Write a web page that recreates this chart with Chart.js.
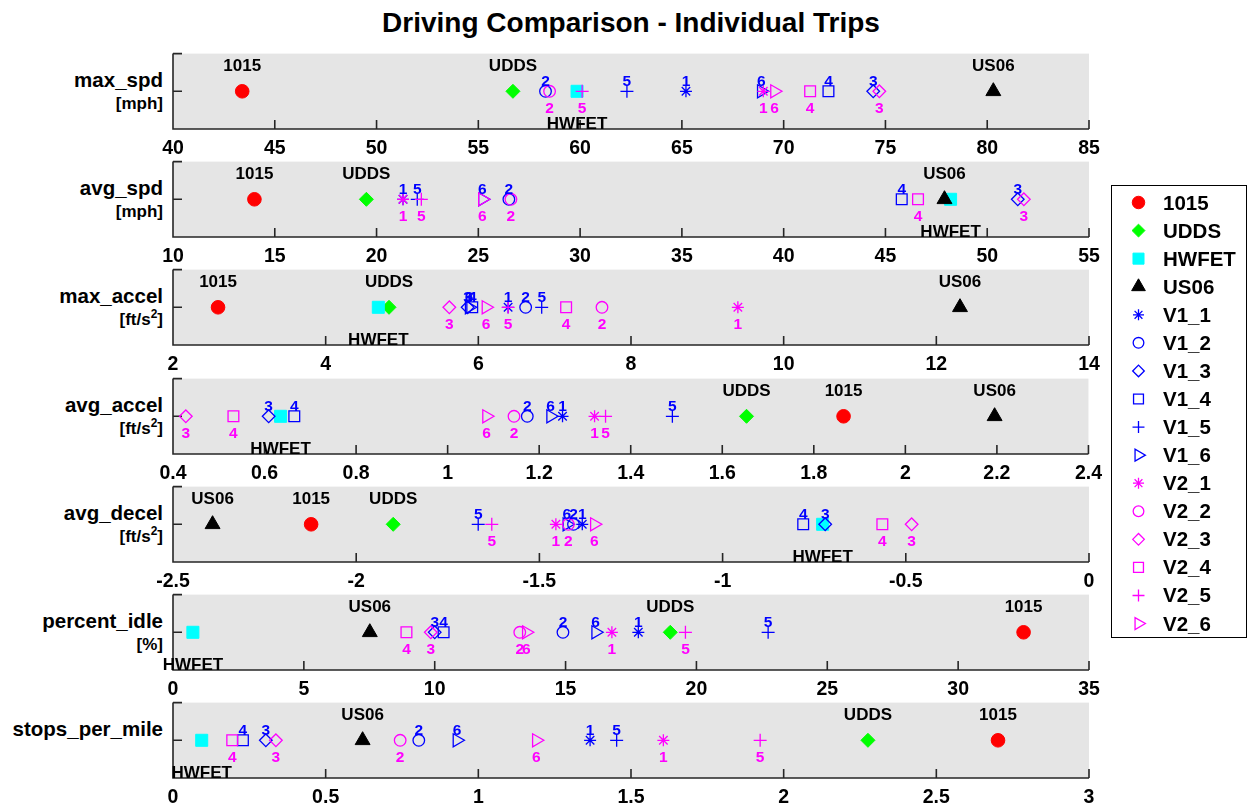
<!DOCTYPE html>
<html>
<head>
<meta charset="utf-8">
<title>Driving Comparison - Individual Trips</title>
<script src="https://cdn.jsdelivr.net/npm/chart.js@4.4.1/dist/chart.umd.min.js"></script>
<style>
  body { margin: 0; background: #fff; font-family: "Liberation Sans", Arial, sans-serif; }
  #wrap { position: relative; width: 1248px; height: 806px; overflow: hidden; }
  #title { position: absolute; left: 173px; width: 916px; top: 7px; text-align: center;
           font-weight: bold; font-size: 28px; line-height: 32px; }
  .ylab { position: absolute; left: 0; width: 163px; text-align: right; font-weight: bold; white-space: nowrap; }
  .yname { font-size: 20.5px; line-height: 24px; }
  .yunit { font-size: 17px; line-height: 20px; }
  .yunit sup { font-size: 0.7em; line-height: 0; }
  canvas.panel { position: absolute; left: 140px; }
  #legend { position: absolute; left: 1111px; top: 185px; width: 134px; height: 451px;
            border: 1px solid #000; background: #fff; }
  #legend canvas { position: absolute; left: 0; top: 0; }
  .lgtext { position: absolute; left: 51px; font-weight: bold; font-size: 20.5px; line-height: 24px; }
</style>
</head>
<body>
<div id="wrap">
  <div id="title">Driving Comparison - Individual Trips</div>
  <div id="legend"></div>
</div>
<script>
// series: drive cycles first, then vehicle 1 and vehicle 2 trips
const series = ['1015', 'UDDS', 'HWFET', 'US06',
  'V1_1', 'V1_2', 'V1_3', 'V1_4', 'V1_5', 'V1_6',
  'V2_1', 'V2_2', 'V2_3', 'V2_4', 'V2_5', 'V2_6'];

const panelNames = ['max_spd', 'avg_spd', 'max_accel', 'avg_accel', 'avg_decel', 'percent_idle', 'stops_per_mile'];
const panelUnits = ['mph', 'mph', 'ft/s2', 'ft/s2', 'ft/s2', '%', ''];

// values per panel, same order as series
const maxSpd       = [43.4, 56.7, 59.85, 80.3, 65.2, 58.3, 74.4, 72.2, 62.3, 68.9, 69.0, 58.5, 74.7, 71.3, 60.1, 69.55];
const avgSpd       = [14.0, 19.5, 48.2, 47.9, 21.3, 26.5, 51.5, 45.8, 22.0, 25.2, 21.3, 26.6, 51.8, 46.6, 22.2, 25.2];
const maxAccel     = [2.59, 4.83, 4.69, 12.31, 6.39, 6.62, 5.86, 5.92, 6.83, 5.88, 9.40, 7.62, 5.62, 7.15, 6.39, 6.10];
const avgAccel     = [1.865, 1.653, 0.635, 2.195, 1.251, 1.174, 0.609, 0.665, 1.491, 1.225, 1.321, 1.145, 0.428, 0.532, 1.345, 1.085];
const avgDecel     = [-2.123, -1.899, -0.727, -2.392, -1.383, -1.407, -0.720, -0.780, -1.667, -1.425, -1.455, -1.421, -0.484, -0.564, -1.630, -1.350];
const pctIdle      = [32.5, 19.0, 0.76, 7.52, 17.78, 14.9, 10.0, 10.34, 22.74, 16.15, 16.77, 13.25, 9.85, 8.92, 19.58, 13.5];
const stopsPerMile = [2.702, 2.276, 0.094, 0.621, 1.366, 0.805, 0.304, 0.229, 1.453, 0.93, 1.606, 0.744, 0.337, 0.194, 1.923, 1.19];

// x axis range and tick step per panel
const axisMin  = [40, 10, 2, 0.4, -2.5, 0, 0];
const axisMax  = [85, 55, 14, 2.4, 0, 35, 3];
const axisStep = [5, 5, 2, 0.2, 0.5, 5, 0.5];

const panelValues = [maxSpd, avgSpd, maxAccel, avgAccel, avgDecel, pctIdle, stopsPerMile];

// marker looks
const BLUE = '#0000ff', MAG = '#ff00ff';
const seriesColor = ['#ff0000', '#00ff00', '#00ffff', '#000000',
  BLUE, BLUE, BLUE, BLUE, BLUE, BLUE, MAG, MAG, MAG, MAG, MAG, MAG];
const tripStyle = ['star', 'circle', 'rectRot', 'rect', 'cross', 'triangle'];
const tripRadius = [6, 5.8, 6.3, 7.6, 6.5, 7.5];
const markerStyle = ['circle', 'rectRot', 'rect', 'triangle'].concat(tripStyle, tripStyle);
const markerRadius = [6.8, 7, 8.5, 8.6].concat(tripRadius, tripRadius);
const markerRotation = series.map((s, i) => (i >= 4 && (i - 4) % 6 === 5) ? 90 : 0);
const filled = series.map((s, i) => i < 4);

const panelTop = [52, 160, 268, 377, 485, 593, 701];
const PANEL_H = 77;
const FONT = '"Liberation Sans", Arial, sans-serif';

const wrap = document.getElementById('wrap');

function fmtTick(v) {
  return String(parseFloat(Number(v).toFixed(3)));
}

// grey box, axis lines with inward ticks, and the text tags next to the markers
const panelDecor = {
  id: 'panelDecor',
  beforeDraw(chart) {
    const a = chart.chartArea;
    const ctx = chart.ctx;
    ctx.save();
    ctx.fillStyle = '#e5e5e5';
    ctx.fillRect(a.left, a.top, a.right - a.left, a.bottom - a.top);
    ctx.restore();
  },
  beforeDatasetsDraw(chart) {
    const a = chart.chartArea;
    const ctx = chart.ctx;
    const x = chart.scales.x, y = chart.scales.y;
    ctx.save();
    ctx.strokeStyle = '#262626';
    ctx.lineWidth = 1.6;
    ctx.beginPath();
    ctx.moveTo(a.left, a.top);
    ctx.lineTo(a.left, a.bottom);
    ctx.lineTo(a.right, a.bottom);
    x.ticks.forEach(t => {
      const px = x.getPixelForValue(t.value);
      ctx.moveTo(px, a.bottom);
      ctx.lineTo(px, a.bottom - 9);
    });
    [-1, 0, 1].forEach(v => {
      const py = y.getPixelForValue(v);
      ctx.moveTo(a.left, py);
      ctx.lineTo(a.left + 9, py);
    });
    ctx.stroke();
    ctx.restore();
  },
  afterDatasetsDraw(chart) {
    const ctx = chart.ctx;
    ctx.save();
    ctx.textAlign = 'center';
    ctx.textBaseline = 'alphabetic';
    chart.data.datasets.forEach((ds, i) => {
      const pt = chart.getDatasetMeta(i).data[0];
      if (!pt) return;
      let txt, dy, size, color;
      if (i < 4) {
        txt = series[i];
        size = 17;
        color = '#000';
        dy = (series[i] === 'HWFET') ? 32 : -26;
      } else if (i < 10) {
        txt = String(i - 3);
        size = 15.5;
        color = BLUE;
        dy = -11;
      } else {
        txt = String(i - 9);
        size = 15.5;
        color = MAG;
        dy = 16;
      }
      ctx.font = 'bold ' + size + 'px ' + FONT;
      ctx.fillStyle = color;
      ctx.fillText(txt, pt.x, pt.y + dy + 0.358 * size);
    });
    ctx.restore();
  }
};

panelNames.forEach((name, k) => {
  // left-hand labels
  const nm = document.createElement('div');
  nm.className = 'ylab yname';
  nm.style.top = (panelTop[k] + 28 - 12) + 'px';
  nm.textContent = name;
  wrap.appendChild(nm);
  if (panelUnits[k]) {
    const un = document.createElement('div');
    un.className = 'ylab yunit';
    un.style.top = (panelTop[k] + 52 - 10) + 'px';
    un.innerHTML = '[' + panelUnits[k].replace('s2', 's<sup>2</sup>') + ']';
    wrap.appendChild(un);
  }

  const canvas = document.createElement('canvas');
  canvas.className = 'panel';
  canvas.width = 970;
  canvas.height = 112;
  canvas.style.top = (panelTop[k] - 8) + 'px';
  wrap.appendChild(canvas);

  const values = panelValues[k];
  new Chart(canvas.getContext('2d'), {
    type: 'scatter',
    data: {
      datasets: series.map((s, i) => ({
        label: s,
        data: [{ x: values[i], y: 0 }],
        order: series.length - i,
        clip: false,
        pointStyle: markerStyle[i],
        pointRadius: markerRadius[i],
        pointHoverRadius: markerRadius[i],
        pointRotation: markerRotation[i],
        pointBackgroundColor: filled[i] ? seriesColor[i] : 'rgba(0,0,0,0)',
        pointBorderColor: seriesColor[i],
        pointBorderWidth: filled[i] ? 1 : 1.3
      }))
    },
    options: {
      responsive: false,
      animation: false,
      events: [],
      layout: { padding: { left: 33, right: 21, top: 8, bottom: 0 } },
      plugins: { legend: { display: false }, tooltip: { enabled: false } },
      scales: {
        x: {
          type: 'linear',
          min: axisMin[k],
          max: axisMax[k],
          grid: { display: false, drawTicks: false },
          border: { display: false },
          ticks: {
            stepSize: axisStep[k],
            autoSkip: false,
            maxRotation: 0,
            padding: 8,
            color: '#000',
            font: { family: FONT, size: 19.5, weight: 'bold' },
            callback: v => fmtTick(v)
          },
          afterFit: scale => { scale.height = 112 - 8 - PANEL_H; }
        },
        y: { type: 'linear', min: -1, max: 1, display: false }
      }
    },
    plugins: [panelDecor]
  });
});

// legend box
const legend = document.getElementById('legend');
const lgCanvas = document.createElement('canvas');
lgCanvas.width = 134;
lgCanvas.height = 451;
legend.appendChild(lgCanvas);
const lctx = lgCanvas.getContext('2d');
series.forEach((s, i) => {
  const cy = 16.5 + i * 28.07;
  lctx.save();
  lctx.fillStyle = filled[i] ? seriesColor[i] : 'rgba(0,0,0,0)';
  lctx.strokeStyle = seriesColor[i];
  lctx.lineWidth = filled[i] ? 1 : 1.3;
  Chart.helpers.drawPoint(lctx, {
    pointStyle: markerStyle[i],
    radius: markerRadius[i] * 0.92,
    rotation: markerRotation[i],
    borderWidth: lctx.lineWidth
  }, 26.5, cy);
  lctx.restore();
  const t = document.createElement('div');
  t.className = 'lgtext';
  t.style.top = (cy - 12) + 'px';
  t.textContent = s;
  legend.appendChild(t);
});
</script>
</body>
</html>
